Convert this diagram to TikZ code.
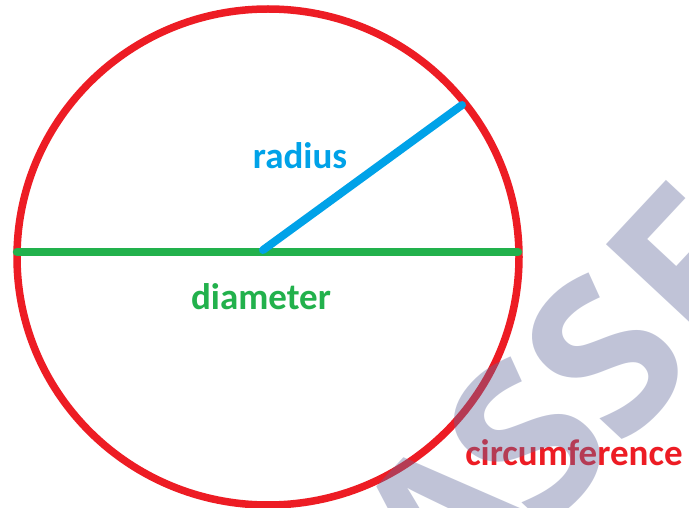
\documentclass[tikz,border=0pt]{standalone}
\usepackage{fontspec}
\setmainfont{Carlito}
\newfontfamily\wmfont{Open Sans}
\definecolor{cred}{RGB}{237,28,36}
\definecolor{cgreen}{RGB}{34,177,76}
\definecolor{cblue}{RGB}{0,162,232}
\definecolor{wmcol}{RGB}{98,107,157}
\begin{document}
\begin{tikzpicture}[x=1pt,y=-1pt,
  lbl/.style={font=\bfseries\fontsize{37}{40}\selectfont, inner sep=0pt, anchor=center},
  wm/.style={font=\wmfont\bfseries\fontsize{215}{220}\selectfont, text=wmcol, opacity=0.4, rotate=47, inner sep=0pt, anchor=center}]
\useasboundingbox (0,0) rectangle (689,508);
\fill[white] (0,0) rectangle (689,508);
% circle
\coordinate (c) at (268,257);
\draw[cred, line width=7.5pt] (c) ellipse [x radius=251pt, y radius=248pt];
% diameter
\coordinate (dl) at (17,252);
\coordinate (dr) at (518,252);
\draw[cgreen, line width=8.5pt, line cap=round] (dl) -- (dr);
% radius
\coordinate (r0) at (263,250);
\coordinate (r1) at (462,105);
\draw[cblue, line width=8pt, line cap=round] (r0) -- (r1);
% labels
\node[lbl, text=cblue] (tr) at (300,156) {radius};
\node[lbl, text=cgreen] (td) at (261,297) {diameter};
\node[lbl, text=cred] (tc) at (574,453) {circumference};
% watermark
\begin{scope}
\clip (0,0) rectangle (689,508);
\node[wm] (w1) at (447,525) {A};
\node[wm] (w2) at (527,440) {S};
\node[wm] (w3) at (605,356) {S};
\node[wm] (w4) at (690,268) {F};
\end{scope}
\end{tikzpicture}
\end{document}
